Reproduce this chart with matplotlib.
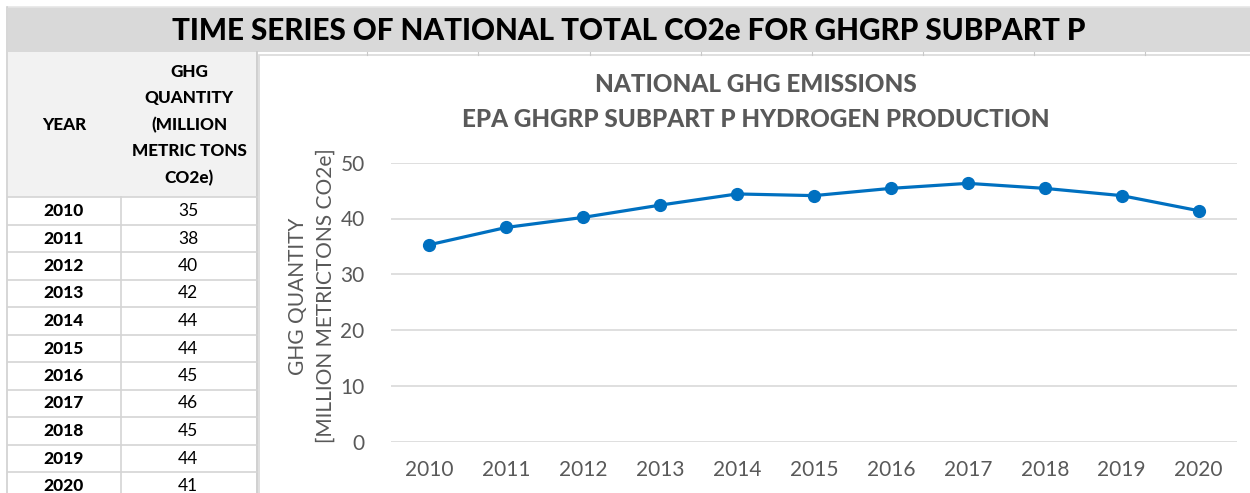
import matplotlib
matplotlib.use('Agg')
import matplotlib.pyplot as plt
from matplotlib.patches import Rectangle
from matplotlib.lines import Line2D

# data
years = [2010, 2011, 2012, 2013, 2014, 2015, 2016, 2017, 2018, 2019, 2020]
table_values = [35, 38, 40, 42, 44, 44, 45, 46, 45, 44, 41]
chart_values = [35.3, 38.4, 40.2, 42.4, 44.4, 44.1, 45.4, 46.3, 45.4, 44.1, 41.4]
y_ticks = [0, 10, 20, 30, 40, 50]

main_title = "TIME SERIES OF NATIONAL TOTAL CO2e FOR GHGRP SUBPART P"
chart_title = "NATIONAL GHG EMISSIONS\nEPA GHGRP SUBPART P HYDROGEN PRODUCTION"
y_label = "GHG QUANTITY\n[MILLION METRICTONS CO2e]"
header_year = "YEAR"
header_qty = "GHG\nQUANTITY\n(MILLION\nMETRIC TONS\nCO2e)"

W, H = 1250, 493
FONT = 'Lato'
BOLD = 900  # heaviest Lato face available
GREY_TXT = '#595959'
LINE_BLUE = '#0070C0'

plt.rcParams['font.family'] = [FONT, 'DejaVu Sans']

fig = plt.figure(figsize=(W / 100, H / 100), dpi=100)


def fx(x):
    return x / W


def fy(y):
    return 1 - y / H


def rect(x0, y0, x1, y1, **kw):
    fig.patches.append(Rectangle((fx(x0), fy(y1)), fx(x1) - fx(x0), fy(y0) - fy(y1),
                                 transform=fig.transFigure, zorder=-2, **kw))


def hline(y, x0, x1, color='#d4d4d4', lw=1.2):
    fig.lines.append(Line2D([fx(x0), fx(x1)], [fy(y), fy(y)], transform=fig.transFigure,
                            color=color, lw=lw, zorder=-1))


def vline(x, y0, y1, color='#d4d4d4', lw=1.2):
    fig.lines.append(Line2D([fx(x), fx(x)], [fy(y0), fy(y1)], transform=fig.transFigure,
                            color=color, lw=lw, zorder=-1))


# spreadsheet background: title bar + table header
rect(8, 7, W, 52, facecolor='#d9d9d9', edgecolor='none')
hline(7, 8, W, color='#e6e6e6')
rect(8, 52, 257, 197, facecolor='#f2f2f2', edgecolor='none')
vline(7, 7, H, color='#d0d0d0')
vline(121, 197, H)
vline(257, 52, H, color='#c8c8c8')
for cx in [367, 478, 590, 701, 812, 923, 1034, 1145]:
    vline(cx, 52, 55, color='#c8c8c8', lw=0.8)

fig.text(fx(629), fy(31), main_title, ha='center', va='center', fontsize=21.3,
         fontweight=BOLD, color='black')

# table
fig.text(fx(64), fy(125), header_year, ha='center', va='center', fontsize=12.3,
         fontweight=BOLD, color='black')
fig.text(fx(189), fy(125), header_qty, ha='center', va='center', fontsize=12.3,
         fontweight=BOLD, color='black', linespacing=1.8)
row_h = 27.5
for i, (yr, v) in enumerate(zip(years, table_values)):
    yc = 211 + i * row_h
    hline(yc - row_h / 2, 8, 257)
    fig.text(fx(64), fy(yc), str(yr), ha='center', va='center', fontsize=12.5,
             fontweight=BOLD, color='black')
    fig.text(fx(188), fy(yc), str(v), ha='center', va='center', fontsize=12.5,
             color='black')

# chart area
rect(259, 55, W + 5, H + 5, facecolor='white', edgecolor='#d9d9d9', lw=1.2)

fig.text(fx(756), fy(102), chart_title, ha='center', va='center', fontsize=17.5,
         fontweight=BOLD, color=GREY_TXT, linespacing=1.65)

ax = fig.add_axes([fx(391), fy(441.7), fx(1237) - fx(391), fy(162.7) - fy(441.7)])
ax.set_zorder(5)
ax.set_facecolor('none')
xs = list(range(len(years)))
ax.plot(xs, chart_values, color=LINE_BLUE, lw=2.3, marker='o', markersize=8.5,
        markerfacecolor=LINE_BLUE, markeredgecolor=LINE_BLUE, zorder=3, clip_on=False)
ax.set_xlim(-0.5, len(years) - 0.5)
ax.set_ylim(0, 50)
ax.set_yticks(y_ticks)
ax.set_xticks(xs)
ax.set_xticklabels([str(y) for y in years])
ax.grid(axis='y', color='#d9d9d9', lw=1.2)
ax.set_axisbelow(True)
for s in ax.spines.values():
    s.set_visible(False)
ax.tick_params(axis='both', length=0, labelsize=15, labelcolor=GREY_TXT)
ax.tick_params(axis='x', pad=13)
ax.tick_params(axis='y', pad=19)

fig.text(fx(312), fy(296), y_label, ha='center', va='center', rotation=90,
         fontsize=15, color=GREY_TXT, linespacing=1.45, multialignment='center')

fig.savefig('out.png', dpi=100)
